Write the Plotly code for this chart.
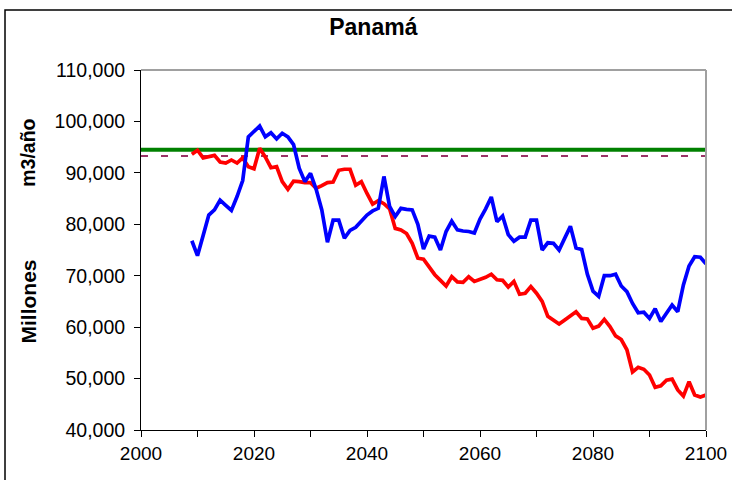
import plotly.graph_objects as go

years = list(range(2009, 2101))

blue_values = [
    76800, 73900, 77800, 81800, 82800, 84700, 83700, 82700, 85400, 88500,
    97000, 98000, 99100, 97000, 97800, 96600, 97700, 97000, 95500, 90900,
    88300, 89900, 86800, 82800, 76500, 80800, 80800, 77300, 78800, 79400,
    80600, 81800, 82600, 83100, 89300, 83500, 81500, 83100, 82900, 82800,
    80000, 75200, 77700, 77500, 75000, 78600, 80600, 78900, 78700, 78600,
    78300, 81000, 83000, 85300, 80500, 81600, 78000, 76700, 77500, 77500,
    80800, 80800, 75000, 76400, 76300, 75000, 77300, 79600, 75400, 75100,
    70300, 67000, 66000, 70000, 70000, 70300, 68000, 66900, 64600, 62800,
    62900, 61700, 63600, 61100, 62700, 64300, 63000, 68200, 71900, 73700,
    73600, 72300,
]

red_values = [
    93600, 94400, 92900, 93100, 93400, 92100, 91900, 92500, 91900, 92900,
    91200, 90800, 94800, 93100, 91000, 91200, 88300, 86800, 88400, 88300,
    88100, 88100, 87000, 87500, 88100, 88200, 90500, 90700, 90700, 87600,
    88300, 86000, 83900, 84600, 84000, 83000, 79200, 78900, 78200, 76300,
    73400, 73200, 71800, 70200, 69100, 68000, 69800, 68800, 68700, 69800,
    68900, 69300, 69700, 70300, 69200, 69100, 67800, 68900, 66400, 66600,
    67900, 66600, 65000, 62100, 61400, 60600, 61400, 62100, 63000, 61700,
    61600, 59800, 60200, 61500, 60100, 58300, 57600, 55600, 51300, 52200,
    51800, 50700, 48300, 48600, 49700, 49900, 47800, 46600, 49400, 46800,
    46400, 46800,
]

green_level = 94500
dashed_level = 93300
x_span = [2000, 2100]

x_tickvals = list(range(2000, 2101, 10))
x_ticktext = [str(v) if v % 20 == 0 else "" for v in x_tickvals]

fig = go.Figure()

fig.add_trace(go.Scatter(
    x=x_span, y=[dashed_level] * 2, mode="lines",
    line=dict(color="#993366", width=2, dash="7px,13px"),
    showlegend=False, hoverinfo="skip"))
fig.add_trace(go.Scatter(
    x=x_span, y=[green_level] * 2, mode="lines",
    line=dict(color="#008000", width=4),
    showlegend=False, hoverinfo="skip"))
fig.add_trace(go.Scatter(
    x=years, y=red_values, mode="lines",
    line=dict(color="#FF0000", width=3.7),
    showlegend=False))
fig.add_trace(go.Scatter(
    x=years, y=blue_values, mode="lines",
    line=dict(color="#0000FF", width=3.7),
    showlegend=False))

font_family = "Liberation Sans, Arial, sans-serif"

fig.update_layout(
    width=732, height=480,
    margin=dict(l=141, r=26, t=70, b=50),
    paper_bgcolor="white", plot_bgcolor="white",
    font=dict(family=font_family, size=19, color="black"),
    title=dict(text="<b>Panamá</b>", x=0.51, xref="container", xanchor="center",
               y=0.943, yref="container", yanchor="middle",
               font=dict(family=font_family, size=23, color="black")),
    xaxis=dict(range=x_span, tickmode="array", tickvals=x_tickvals,
               ticktext=x_ticktext, ticks="outside", ticklen=6,
               tickcolor="black", showline=True, linecolor="black",
               linewidth=1, showgrid=False, zeroline=False,
               automargin=False, tickfont=dict(size=19)),
    yaxis=dict(range=[40000, 110000], dtick=10000, tickformat=",d",
               ticks="outside", ticklen=6, tickcolor="black",
               showline=True, linecolor="black", linewidth=1,
               showgrid=False, zeroline=False, automargin=False,
               ticklabelstandoff=5, tickfont=dict(size=19.5)),
    shapes=[
        dict(type="line", xref="paper", yref="paper", x0=0, x1=1, y0=1, y1=1,
             line=dict(color="#A0A0A0", width=2)),
        dict(type="line", xref="paper", yref="paper", x0=1, x1=1, y0=0, y1=1,
             line=dict(color="#A0A0A0", width=2)),
        dict(type="rect", xref="paper", yref="paper",
             x0=-0.2407, x1=1.2, y0=-0.3, y1=1.1667,
             line=dict(color="black", width=1.5), fillcolor="rgba(0,0,0,0)",
             layer="below"),
    ],
    annotations=[
        dict(text="<b>m3/año</b>", xref="paper", yref="paper",
             x=-0.2, y=0.77, textangle=-90, showarrow=False,
             font=dict(family=font_family, size=19.5, color="black"),
             xanchor="center", yanchor="middle"),
        dict(text="<b>Millones</b>", xref="paper", yref="paper",
             x=-0.2, y=0.357, textangle=-90, showarrow=False,
             font=dict(family=font_family, size=21, color="black"),
             xanchor="center", yanchor="middle"),
    ],
)

fig.write_html("out.html",
               config={"displayModeBar": False},
               post_script="document.body.style.margin='0';")
